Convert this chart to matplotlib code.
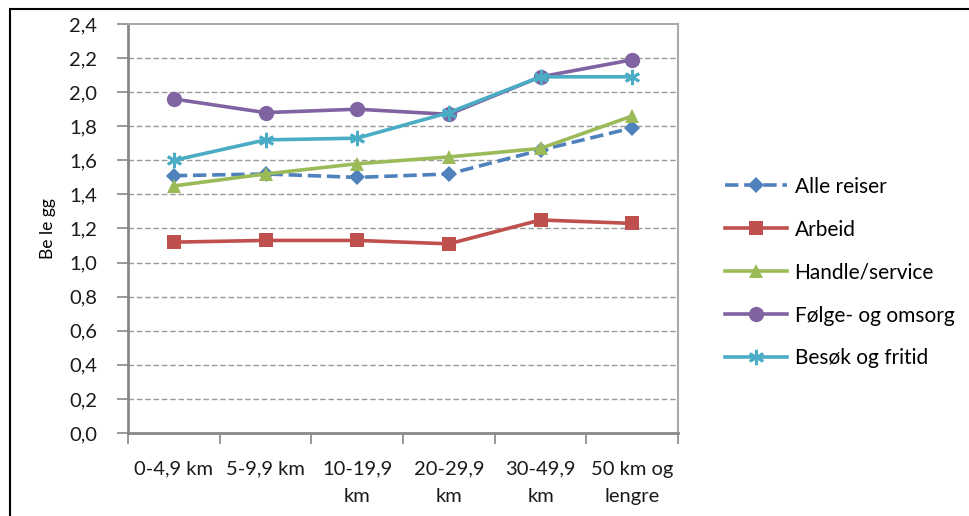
import matplotlib
matplotlib.use("Agg")
import matplotlib.pyplot as plt
from matplotlib.patches import Rectangle
import numpy as np

categories = ["0-4,9 km", "5-9,9 km", "10-19,9\nkm", "20-29,9\nkm", "30-49,9\nkm", "50 km og\nlengre"]
alle_reiser = [1.51, 1.52, 1.50, 1.52, 1.66, 1.79]
arbeid = [1.12, 1.13, 1.13, 1.11, 1.25, 1.23]
handle_service = [1.45, 1.52, 1.58, 1.62, 1.67, 1.86]
folge_omsorg = [1.96, 1.88, 1.90, 1.87, 2.09, 2.19]
besok_fritid = [1.60, 1.72, 1.73, 1.88, 2.09, 2.09]
series_names = ["Alle reiser", "Arbeid", "Handle/service", "Følge- og omsorg", "Besøk og fritid"]
y_ticks = [0.0, 0.2, 0.4, 0.6, 0.8, 1.0, 1.2, 1.4, 1.6, 1.8, 2.0, 2.2, 2.4]

plt.rcParams['font.family'] = ['Lato', 'DejaVu Sans']

fig = plt.figure(figsize=(9.69, 5.16), dpi=100)
W, H = 969, 516
ax = fig.add_axes([128 / W, 1 - 433 / H, (678 - 128) / W, (433 - 24) / H])

# outer chart frame
fig.patches.append(Rectangle((10 / W, -0.1), 1.2, 1 - 9 / H + 0.1, transform=fig.transFigure,
                             fill=False, edgecolor='black', linewidth=1.5))

x = np.arange(len(categories)) + 0.5
styles = [
    (alle_reiser, '#4F81BD', 'D', '--', 8.5),
    (arbeid, '#C0504D', 's', '-', 10.5),
    (handle_service, '#9BBB59', '^', '-', 10.5),
    (folge_omsorg, '#8064A2', 'o', '-', 11),
    (besok_fritid, '#4BACC6', (6, 2, 0), '-', 11),
]
for (vals, col, mk, ls, ms), name in zip(styles, series_names):
    if isinstance(mk, tuple):
        kw = dict(markeredgewidth=2)
    else:
        kw = dict(markeredgewidth=0)
    ax.plot(x, vals, color=col, marker=mk, linestyle=ls, linewidth=2.6, markersize=ms,
            markerfacecolor=col, markeredgecolor=col, label=name, zorder=3, **kw)

ax.set_xlim(0, len(categories))
ax.set_ylim(0, 2.4)
ax.set_yticks(y_ticks)
ax.set_yticklabels([f"{v:.1f}".replace('.', ',') for v in y_ticks], fontsize=14.5, color='#1a1a1a')
ax.set_xticks(x)
ax.set_xticklabels(categories, fontsize=14.5, color='#1a1a1a', linespacing=1.75)
ax.set_xticks(np.arange(len(categories) + 1), minor=True)
ax.tick_params(axis='x', which='major', length=0, pad=20)
ax.tick_params(axis='x', which='minor', length=8, color='#888888', width=1.2)
ax.tick_params(axis='y', length=8, color='#888888', width=1.2, pad=14)

for v in y_ticks[1:-1]:
    ax.axhline(v, color='#999999', linestyle=(0, (4, 2)), linewidth=1.0, zorder=1)

for s in ['top', 'right']:
    ax.spines[s].set_color('#aaaaaa')
    ax.spines[s].set_linewidth(1.5)
for s in ['left', 'bottom']:
    ax.spines[s].set_color('#888888')
    ax.spines[s].set_linewidth(2)

ax.set_ylabel("Be le gg", fontsize=12.5, labelpad=10)

leg = fig.legend(loc='upper left', bbox_to_anchor=(706 / W, 1 - 158 / H), frameon=False,
                 fontsize=15, handlelength=3.0, labelspacing=1.1, handletextpad=0.35)

fig.savefig("out.png", dpi=100)
